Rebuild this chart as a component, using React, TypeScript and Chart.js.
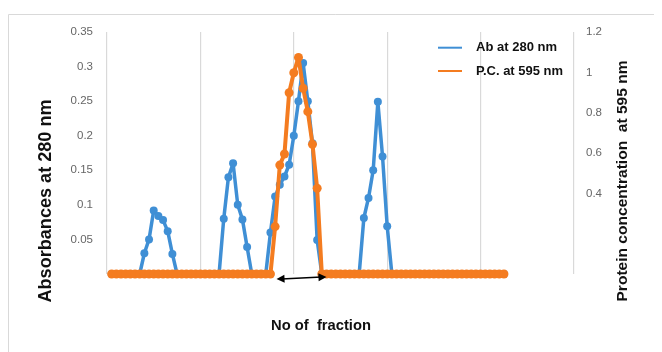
import React, { useEffect, useRef } from 'react';
import { Chart, registerables } from 'chart.js';

Chart.register(...registerables);

// ---- data ----
const fractions: number[] = Array.from({ length: 85 }, (_, i) => i + 1);

const absorbance280: number[] = [
  0, 0, 0, 0, 0, 0, 0, 0.030, 0.050, 0.092,
  0.084, 0.078, 0.062, 0.029, 0, 0, 0, 0, 0, 0,
  0, 0, 0, 0, 0.080, 0.140, 0.160, 0.100, 0.079, 0.039,
  0, 0, 0, 0, 0.060, 0.112, 0.129, 0.141, 0.158, 0.200,
  0.250, 0.305, 0.250, 0.189, 0.049, 0, 0, 0, 0, 0,
  0, 0, 0, 0, 0.081, 0.110, 0.150, 0.249, 0.170, 0.069,
  0, 0, 0, 0, 0, 0, 0, 0, 0, 0,
  0, 0, 0, 0, 0, 0, 0, 0, 0, 0,
  0, 0, 0, 0, 0,
];

const protein595: number[] = [
  0, 0, 0, 0, 0, 0, 0, 0, 0, 0,
  0, 0, 0, 0, 0, 0, 0, 0, 0, 0,
  0, 0, 0, 0, 0, 0, 0, 0, 0, 0,
  0, 0, 0, 0, 0, 0.235, 0.540, 0.595, 0.899, 0.998,
  1.074, 0.921, 0.805, 0.643, 0.425, 0, 0, 0, 0, 0,
  0, 0, 0, 0, 0, 0, 0, 0, 0, 0,
  0, 0, 0, 0, 0, 0, 0, 0, 0, 0,
  0, 0, 0, 0, 0, 0, 0, 0, 0, 0,
  0, 0, 0, 0, 0,
];

const seriesLabels = ['Ab at 280 nm', 'P.C. at 595 nm'];
const leftTitle = 'Absorbances at 280 nm';
const rightTitle = 'Protein concentration  at 595 nm';
const bottomTitle = 'No of  fraction';
// double arrow spanning the protein peak (in fraction units)
const arrowSpan: number[] = [36.3, 47.0];

const BLUE = '#3f8fd5';
const ORANGE = '#f47c20';
const FONT = '"Liberation Sans", Arial, sans-serif';

function fitText(
  ctx: CanvasRenderingContext2D,
  text: string,
  x: number,
  y: number,
  angle: number,
  font: string,
  width: number,
  color: string,
  align: CanvasTextAlign = 'center'
) {
  ctx.save();
  ctx.font = font;
  ctx.fillStyle = color;
  ctx.textAlign = align;
  ctx.textBaseline = 'middle';
  ctx.translate(x, y);
  ctx.rotate(angle);
  const w = ctx.measureText(text).width;
  ctx.scale(width / w, 1);
  ctx.fillText(text, 0, 0);
  ctx.restore();
}

const decorPlugin = {
  id: 'decor',
  afterDraw(chart: any) {
    const { ctx, chartArea, scales } = chart;
    // outer frame
    ctx.save();
    ctx.strokeStyle = '#d9d9d9';
    ctx.lineWidth = 1;
    ctx.beginPath();
    ctx.moveTo(0.5, chart.height);
    ctx.lineTo(0.5, 6.5);
    ctx.lineTo(chart.width, 6.5);
    ctx.stroke();
    ctx.restore();

    // axis titles
    fitText(ctx, leftTitle, 38, 193, -Math.PI / 2, `bold 18px ${FONT}`, 203, '#111');
    fitText(ctx, rightTitle, 615, 173, -Math.PI / 2, `bold 15px ${FONT}`, 241, '#111');
    fitText(ctx, bottomTitle, 313, 318, 0, `bold 14px ${FONT}`, 100, '#111');

    // legend
    const ds = chart.data.datasets;
    const rows = [
      { label: ds[0].label, color: ds[0].borderColor, y: 39.7, w: 81 },
      { label: ds[1].label, color: ds[1].borderColor, y: 63, w: 87 },
    ];
    rows.forEach((r) => {
      ctx.save();
      ctx.strokeStyle = r.color;
      ctx.lineWidth = 2;
      ctx.beginPath();
      ctx.moveTo(430, r.y);
      ctx.lineTo(454, r.y);
      ctx.stroke();
      ctx.restore();
      fitText(ctx, r.label, 468, r.y, 0, `bold 13px ${FONT}`, r.w, '#111', 'left');
    });

    // double-headed arrow
    const x1 = scales.x.getPixelForValue(arrowSpan[0]);
    const x2 = scales.x.getPixelForValue(arrowSpan[1]);
    const y1 = chartArea.bottom + 5;
    const y2 = chartArea.bottom + 3;
    const ang = Math.atan2(y2 - y1, x2 - x1);
    ctx.save();
    ctx.strokeStyle = '#000';
    ctx.fillStyle = '#000';
    ctx.lineWidth = 1.5;
    ctx.beginPath();
    ctx.moveTo(x1 + 5, y1);
    ctx.lineTo(x2 - 5, y2);
    ctx.stroke();
    const head = (x: number, y: number, a: number) => {
      ctx.save();
      ctx.translate(x, y);
      ctx.rotate(a);
      ctx.beginPath();
      ctx.moveTo(0, 0);
      ctx.lineTo(-8, -4);
      ctx.lineTo(-8, 4);
      ctx.closePath();
      ctx.fill();
      ctx.restore();
    };
    head(x2, y2, ang);
    head(x1, y1, ang + Math.PI);
    ctx.restore();
  },
};

export default function App() {
  const ref = useRef<HTMLCanvasElement>(null);

  useEffect(() => {
    if (!ref.current) return;
    const chart = new Chart(ref.current, {
      type: 'line',
      data: {
        datasets: [
          {
            label: seriesLabels[0],
            data: fractions.map((f, k) => ({ x: f, y: absorbance280[k] })),
            borderColor: BLUE,
            backgroundColor: BLUE,
            borderWidth: 3.5,
            borderJoinStyle: 'round',
            borderCapStyle: 'round',
            pointRadius: 4,
            pointBorderWidth: 0,
            pointBackgroundColor: BLUE,
            yAxisID: 'y',
            order: 1,
            clip: false as any,
          },
          {
            label: seriesLabels[1],
            data: fractions.map((f, k) => ({ x: f, y: protein595[k] })),
            borderColor: ORANGE,
            backgroundColor: ORANGE,
            borderWidth: 4,
            borderJoinStyle: 'round',
            borderCapStyle: 'round',
            pointRadius: 4.5,
            pointBorderWidth: 0,
            pointBackgroundColor: ORANGE,
            yAxisID: 'y1',
            order: 0,
            clip: false as any,
          },
        ],
      },
      options: {
        animation: false,
        responsive: false,
        maintainAspectRatio: false,
        devicePixelRatio: 1,
        layout: { padding: { top: 24, left: 0, right: 0, bottom: 0 } },
        plugins: {
          legend: { display: false },
          tooltip: { enabled: false },
        },
        scales: {
          x: {
            type: 'linear',
            min: 0,
            max: 100,
            ticks: { display: false, stepSize: 20 },
            grid: { display: true, color: '#d9d9d9', lineWidth: 1.2, drawTicks: false },
            border: { display: false },
            afterFit: (s: any) => {
              s.height = 78;
            },
          },
          y: {
            type: 'linear',
            position: 'left',
            min: 0,
            max: 0.35,
            ticks: {
              stepSize: 0.05,
              padding: 14,
              color: '#666',
              font: { family: FONT, size: 11.5 },
              callback: (v: any) => (Math.abs(v) < 1e-9 ? '' : String(+(+v).toFixed(2))),
            },
            grid: { display: false, drawTicks: false },
            border: { display: false },
            afterFit: (s: any) => {
              s.width = 99;
            },
          },
          y1: {
            type: 'linear',
            position: 'right',
            min: 0,
            max: 1.2,
            ticks: {
              stepSize: 0.2,
              padding: 12,
              color: '#666',
              font: { family: FONT, size: 11.5 },
              callback: (v: any) => (+v < 0.3 ? '' : String(+(+v).toFixed(1))),
            },
            grid: { display: false, drawTicks: false },
            border: { display: false },
            afterFit: (s: any) => {
              s.width = 88;
            },
          },
        },
      },
      plugins: [decorPlugin],
    });
    return () => chart.destroy();
  }, []);

  return (
    <div style={{ width: 654, height: 344 }}>
      <canvas ref={ref} width={654} height={344} style={{ display: 'block' }} />
    </div>
  );
}
